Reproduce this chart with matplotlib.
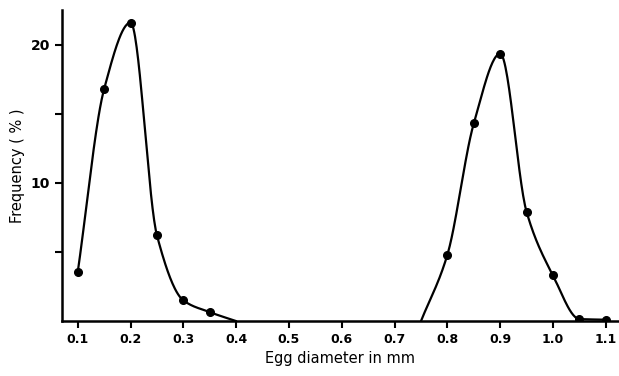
import numpy as np
import matplotlib
matplotlib.use("Agg")
import matplotlib.pyplot as plt

# ── Data ──────────────────────────────────────────────────────────────────────
small_x = [0.10, 0.15, 0.20, 0.25, 0.30, 0.35, 0.40]
small_y = [3.55, 16.8, 21.6, 6.2, 1.5, 0.65, 0.0]
small_dots = [True, True, True, True, True, True, False]

large_x = [0.75, 0.80, 0.85, 0.90, 0.95, 1.00, 1.05, 1.10]
large_y = [0.0, 4.8, 14.3, 19.35, 7.9, 3.3, 0.15, 0.1]
large_dots = [False, True, True, True, True, True, True, True]

x_ticks = [0.1, 0.2, 0.3, 0.4, 0.5, 0.6, 0.7, 0.8, 0.9, 1.0, 1.1]
x_tick_labels = ["0.1", "0.2", "0.3", "0.4", "0.5", "0.6", "0.7", "0.8", "0.9", "1.0", "1.1"]
y_ticks = [5, 10, 15, 20]
y_tick_labels = ["", "10", "", "20"]


def pchip(x, y, n=200):
    # monotone cubic (Fritsch-Carlson) just for drawing a smooth pen line
    x = np.asarray(x, float)
    y = np.asarray(y, float)
    h = np.diff(x)
    d = np.diff(y) / h
    m = np.zeros_like(y)
    m[0], m[-1] = d[0], d[-1]
    for i in range(1, len(y) - 1):
        if d[i - 1] * d[i] > 0:
            w1 = 2 * h[i] + h[i - 1]
            w2 = h[i] + 2 * h[i - 1]
            m[i] = (w1 + w2) / (w1 / d[i - 1] + w2 / d[i])
    xs = np.linspace(x[0], x[-1], n)
    idx = np.clip(np.searchsorted(x, xs) - 1, 0, len(h) - 1)
    t = (xs - x[idx]) / h[idx]
    h00 = 2 * t**3 - 3 * t**2 + 1
    h10 = t**3 - 2 * t**2 + t
    h01 = -2 * t**3 + 3 * t**2
    h11 = t**3 - t**2
    ys = h00 * y[idx] + h10 * h[idx] * m[idx] + h01 * y[idx + 1] + h11 * h[idx] * m[idx + 1]
    return xs, ys


fig = plt.figure(figsize=(6.19, 3.76), dpi=100)
ax = fig.add_axes([0.100, 0.146, 0.900, 0.827])

for xs_, ys_, dots in [(small_x, small_y, small_dots), (large_x, large_y, large_dots)]:
    cx, cy = pchip(xs_, ys_)
    ax.plot(cx, cy, color="black", linewidth=1.6, solid_capstyle="round")
    px = [a for a, k in zip(xs_, dots) if k]
    py = [b for b, k in zip(ys_, dots) if k]
    ax.plot(px, py, "o", color="black", markersize=5.5)

ax.set_xlim(0.07, 1.125)
ax.set_ylim(0, 22.5)

ax.set_xticks(x_ticks)
ax.set_xticklabels(x_tick_labels, fontsize=9, fontweight="bold")
ax.set_yticks(y_ticks)
ax.set_yticklabels(y_tick_labels, fontsize=10, fontweight="bold")
ax.tick_params(axis="both", direction="out", length=5, width=1.5, color="black")

ax.spines["top"].set_visible(False)
ax.spines["right"].set_visible(False)
ax.spines["left"].set_linewidth(1.8)
ax.spines["bottom"].set_linewidth(1.8)

ax.set_xlabel("Egg diameter in mm", fontsize=10.5)
ax.set_ylabel("Frequency ( % )", fontsize=10.5)

fig.savefig("out.png", dpi=100)
